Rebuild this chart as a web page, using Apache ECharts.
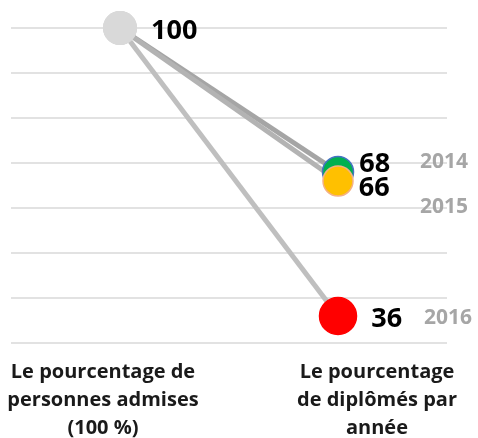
<!DOCTYPE html>
<html>
<head>
    <meta charset="utf-8">
    <title>ECharts</title>
    <script src="https://cdn.jsdelivr.net/npm/echarts@6/dist/echarts.min.js"></script>
    <style>
        body { margin: 0; background: #fff; }
        #main { width: 478px; height: 438px; }
    </style>
</head>
<body>
    <div id="main"></div>
    <script type="text/javascript">
    // data
    var categories = ['Le pourcentage de\npersonnes admises\n(100 %)', 'Le pourcentage\nde diplômés par\nannée'];
    var years = ['2014', '2015', '2016'];
    var startValue = 100;
    var endValues = [68, 66, 36];

    // looks
    var dotColors = ['#00b050', '#ffc000', '#ff0000'];
    var dotBorders = ['#4472c4', '#f4b183', '#ff0000'];
    var dotSizes = [31, 30, 37];
    var lineColors = ['#a5a5a5', '#b3b3b3', '#bfbfbf'];
    var numOffsets = [[0, -8], [0, 7], [0, 3]];
    var yearOffsets = [[66, -10], [66, 26], [70, 2]];
    var drawOrder = [2, 0, 1]; // 2016 under, 2015 on top

    var font = '"Open Sans", "DejaVu Sans", sans-serif';

    var series = [];
    drawOrder.forEach(function (i) {
        series.push({
            name: years[i],
            type: 'line',
            data: [
                {
                    value: startValue,
                    symbolSize: 34,
                    itemStyle: { color: '#d9d9d9', borderWidth: 0 },
                    label: {
                        show: i === 0,
                        position: 'right',
                        distance: 14,
                        offset: [0, 3],
                        color: '#000',
                        fontSize: 27,
                        fontWeight: 'bold',
                        fontFamily: font
                    }
                },
                {
                    value: endValues[i],
                    symbolSize: dotSizes[i],
                    itemStyle: { color: dotColors[i], borderColor: dotBorders[i], borderWidth: 1.5 },
                    label: {
                        show: true,
                        position: 'right',
                        distance: i === 2 ? 14 : 5,
                        offset: numOffsets[i],
                        color: '#000',
                        fontSize: 27,
                        fontWeight: 'bold',
                        fontFamily: font
                    }
                }
            ],
            symbol: 'circle',
            lineStyle: { color: lineColors[i], width: 5 },
            endLabel: {
                show: true,
                distance: 16,
                offset: yearOffsets[i],
                formatter: years[i],
                color: '#a6a6a6',
                fontSize: 21,
                fontWeight: 'bold',
                fontFamily: font
            },
            animation: false
        });
    });

    var myChart = echarts.init(document.getElementById('main'));

    var option = {
        backgroundColor: '#fff',
        grid: {
            left: 11,
            right: 31,
            top: 28,
            bottom: 95
        },
        xAxis: {
            type: 'category',
            data: categories,
            boundaryGap: true,
            axisLine: { show: false },
            axisTick: { show: false },
            axisLabel: {
                margin: 15,
                interval: 0,
                formatter: function (val, idx) {
                    var s = idx === 0 ? 'a' : 'b';
                    return val.split('\n').map(function (l) {
                        return '{' + s + '|' + l + '}';
                    }).join('\n');
                },
                rich: {
                    a: {
                        padding: [0, 34, 0, 0],
                        fontSize: 20,
                        lineHeight: 28,
                        fontWeight: 'bold',
                        color: '#1a1a1a',
                        fontFamily: font
                    },
                    b: {
                        padding: [0, 0, 0, 78],
                        fontSize: 20,
                        lineHeight: 28,
                        fontWeight: 'bold',
                        color: '#1a1a1a',
                        fontFamily: font
                    }
                }
            }
        },
        yAxis: {
            type: 'value',
            min: 30,
            max: 100,
            interval: 10,
            axisLine: { show: false },
            axisTick: { show: false },
            axisLabel: { show: false },
            splitLine: { lineStyle: { color: '#d9d9d9', width: 1.5 } }
        },
        series: series
    };

    myChart.setOption(option);
    </script>
</body>
</html>
